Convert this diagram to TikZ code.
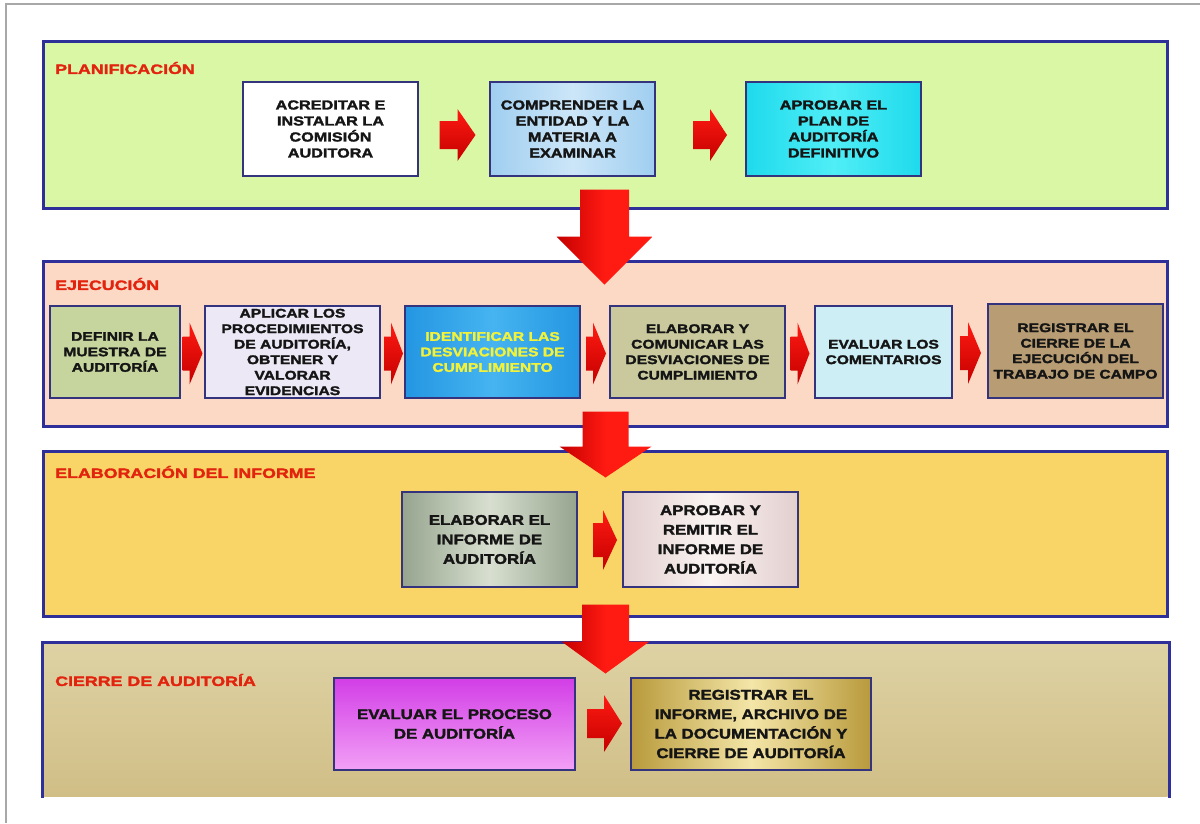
\documentclass[tikz,border=0pt]{standalone}
\usepackage{fontspec}
\newfontfamily\heavywide{Liberation Sans}[FakeStretch=1.25,FakeBold=2.2]
\newfontfamily\heavymid{Liberation Sans}[FakeStretch=1.2,FakeBold=2.2]
\newfontfamily\heavylabel{Liberation Sans}[FakeStretch=1.32,FakeBold=2.2]
\usetikzlibrary{calc}

\definecolor{framegray}{HTML}{A8A8A8}
\definecolor{panelblue}{HTML}{2F2F9A}
\definecolor{boxblue}{HTML}{34347E}
\definecolor{labelred}{HTML}{E2240F}
\definecolor{p1fill}{HTML}{DAF7A6}
\definecolor{p2fill}{HTML}{FCD9C5}
\definecolor{p3fill}{HTML}{F9D467}
\definecolor{p4top}{HTML}{DED2A4}
\definecolor{p4bottom}{HTML}{D0BE86}
\definecolor{arrowred}{HTML}{FF1A12}
\definecolor{arrowdark}{HTML}{C40000}
\definecolor{inktext}{HTML}{151515}
\definecolor{yellowtext}{HTML}{F2F23A}

% horizontal block arrow between two named nodes
% #1,#2 nodes; #3 length; #4 head length; #5 head half height; #6 shaft half height; #7 offset x,y
\newcommand\rightblock[7]{%
  \begin{scope}[shift={($(#1.east)!0.5!(#2.west)+(#7)$)}]
    \shade[top color=arrowred, bottom color=arrowdark]
      ({-#3/2},-#6) -- ({#3/2-#4},-#6) -- ({#3/2-#4},-#5) -- ({#3/2},0)
      -- ({#3/2-#4},#5) -- ({#3/2-#4},#6) -- ({-#3/2},#6) -- cycle;
  \end{scope}}

% downward block arrow between two stacked panels
% #1 upper panel; #2 lower panel; #3 length; #4 head length; #5 head half width; #6 shaft half width; #7 offset x,y
\newcommand\downblock[7]{%
  \begin{scope}[shift={($(#1.south)!0.5!(#2.north)+(#7)$)}]
    \shade[left color=arrowdark, right color=arrowred, middle color=arrowred]
      (-#6,{-#3/2}) -- (#6,{-#3/2}) -- (#6,{#3/2-#4}) -- (#5,{#3/2-#4})
      -- (0,{#3/2}) -- (-#5,{#3/2-#4}) -- (-#6,{#3/2-#4}) -- cycle;
  \end{scope}}

\begin{document}
\begin{tikzpicture}[x=1pt,y=-1pt,
  panel/.style={draw=panelblue, line width=3pt, minimum width=1124pt,
    inner sep=0pt, anchor=north west},
  phase/.style={anchor=west, inner sep=0pt, text=labelred,
    font=\heavylabel\bfseries\fontsize{13.5}{16}\selectfont},
  stepbox/.style={draw=boxblue, line width=2pt, inner sep=2pt, align=center,
    text=inktext, minimum width=175pt},
  planfont/.style={font=\heavywide\bfseries\fontsize{13}{16}\selectfont},
  execfont/.style={font=\heavywide\bfseries\fontsize{12.5}{15.5}\selectfont},
  repfont/.style={font=\heavymid\bfseries\fontsize{14}{19.5}\selectfont},
]
\useasboundingbox (0,0) rectangle (1200,823);
\fill[white] (0,0) rectangle (1200,823);
\draw[framegray, line width=1.5pt] (6,823) -- (6,4) -- (1200,4);

% phase panels
\node[panel, fill=p1fill, minimum height=167pt] (plan) at (42,40) {};
\node[panel, fill=p2fill, minimum height=165pt] (ejec) at (42,260) {};
\node[panel, fill=p3fill, minimum height=165pt] (info) at (42,450) {};
\node[panel, draw=none, top color=p4top, bottom color=p4bottom,
      minimum height=153pt] (cier) at (42,642) {};
\draw[panelblue, line width=3pt]
  (cier.south west) -- (cier.north west) -- (cier.north east) -- (cier.south east);

% phase titles
\node[phase] (tplan) at (55,68)  {PLANIFICACIÓN};
\node[phase] (tejec) at (55,284) {EJECUCIÓN};
\node[phase] (tinfo) at (55,472) {ELABORACIÓN DEL INFORME};
\node[phase] (tcier) at (55,680) {CIERRE DE AUDITORÍA};

% planning steps
\node[stepbox, planfont, fill=white, minimum height=94pt] (a1) at (330.5,129)
  {ACREDITAR E\\INSTALAR LA\\COMISIÓN\\AUDITORA};
\node[stepbox, planfont, minimum width=165pt, minimum height=94pt,
      left color={rgb,255:red,160;green,206;blue,240}, right color={rgb,255:red,160;green,206;blue,240},
      middle color={rgb,255:red,204;green,230;blue,248}]
  (a2) at (572.5,129) {COMPRENDER LA\\ENTIDAD Y LA\\MATERIA A\\EXAMINAR};
\node[stepbox, planfont, minimum height=94pt,
      left color={rgb,255:red,30;green,218;blue,236}, right color={rgb,255:red,30;green,218;blue,236},
      middle color={rgb,255:red,80;green,238;blue,246}]
  (a3) at (833.5,129) {APROBAR EL\\PLAN DE\\AUDITORÍA\\DEFINITIVO};

% execution steps
\node[stepbox, execfont, fill={rgb,255:red,197;green,213;blue,157}, minimum width=130pt,
      minimum height=92pt] (e1) at (115,352) {DEFINIR LA\\MUESTRA DE\\AUDITORÍA};
\node[stepbox, execfont, fill={rgb,255:red,236;green,232;blue,246}, minimum height=92pt]
  (e2) at (292.5,352) {APLICAR LOS\\PROCEDIMIENTOS\\DE AUDITORÍA,\\OBTENER Y\\VALORAR\\EVIDENCIAS};
\node[stepbox, execfont, text=yellowtext, minimum height=92pt,
      left color={rgb,255:red,36;green,150;blue,226}, right color={rgb,255:red,36;green,150;blue,226},
      middle color={rgb,255:red,70;green,180;blue,240}]
  (e3) at (492.5,352) {IDENTIFICAR LAS\\DESVIACIONES DE\\CUMPLIMIENTO};
\node[stepbox, execfont, fill={rgb,255:red,201;green,201;blue,157}, minimum height=92pt]
  (e4) at (697.5,352) {ELABORAR Y\\COMUNICAR LAS\\DESVIACIONES DE\\CUMPLIMIENTO};
\node[stepbox, execfont, fill={rgb,255:red,205;green,238;blue,245}, minimum width=137pt,
      minimum height=92pt] (e5) at (883.5,352) {EVALUAR LOS\\COMENTARIOS};
\node[stepbox, execfont, fill={rgb,255:red,184;green,157;blue,116}, minimum height=94pt]
  (e6) at (1075.5,351) {REGISTRAR EL\\CIERRE DE LA\\EJECUCIÓN DEL\\TRABAJO DE CAMPO};

% report steps
\node[stepbox, repfont, minimum height=95pt,
      left color={rgb,255:red,150;green,164;blue,142}, right color={rgb,255:red,150;green,164;blue,142},
      middle color={rgb,255:red,216;green,223;blue,208}]
  (r1) at (489.5,539.5) {ELABORAR EL\\INFORME DE\\AUDITORÍA};
\node[stepbox, repfont, minimum height=95pt,
      left color={rgb,255:red,226;green,206;blue,206}, right color={rgb,255:red,226;green,206;blue,206},
      middle color={rgb,255:red,250;green,244;blue,242}]
  (r2) at (710.5,539.5) {APROBAR Y\\REMITIR EL\\INFORME DE\\AUDITORÍA};

% closing steps
\node[stepbox, repfont, minimum width=241pt, minimum height=92pt,
      top color={rgb,255:red,210;green,62;blue,230}, bottom color={rgb,255:red,242;green,160;blue,246}]
  (c1) at (454.5,724) {EVALUAR EL PROCESO\\DE AUDITORÍA};
\node[stepbox, repfont, minimum width=240pt, minimum height=92pt,
      left color={rgb,255:red,184;green,154;blue,60}, right color={rgb,255:red,184;green,154;blue,60},
      middle color={rgb,255:red,244;green,230;blue,168}]
  (c2) at (751,724) {REGISTRAR EL\\INFORME, ARCHIVO DE\\LA DOCUMENTACIÓN Y\\CIERRE DE AUDITORÍA};

% step-to-step arrows
\rightblock{a1}{a2}{36}{18}{26}{14}{3.5,6}
\rightblock{a2}{a3}{34}{17}{26}{14}{9.5,6}
\rightblock{e1}{e2}{20}{13}{31}{17}{0,1.5}
\rightblock{e2}{e3}{19}{12}{31}{17}{1,1.5}
\rightblock{e3}{e4}{20}{13}{31}{17}{1,1.5}
\rightblock{e4}{e5}{19}{12}{31}{17}{0,1.5}
\rightblock{e5}{e6}{21}{13}{31}{17}{0.5,1.5}
\rightblock{r1}{r2}{24}{14}{30}{17}{5,0.5}
\rightblock{c1}{c2}{35}{18}{28.5}{14.5}{1.5,-0.5}

% phase-to-phase arrows
\downblock{plan}{ejec}{95}{48}{48}{24.5}{-1,2}
\downblock{ejec}{info}{66}{31}{46}{23}{0,5.5}
\downblock{info}{cier}{69}{32}{44}{23.5}{0,9}
\end{tikzpicture}
\end{document}
